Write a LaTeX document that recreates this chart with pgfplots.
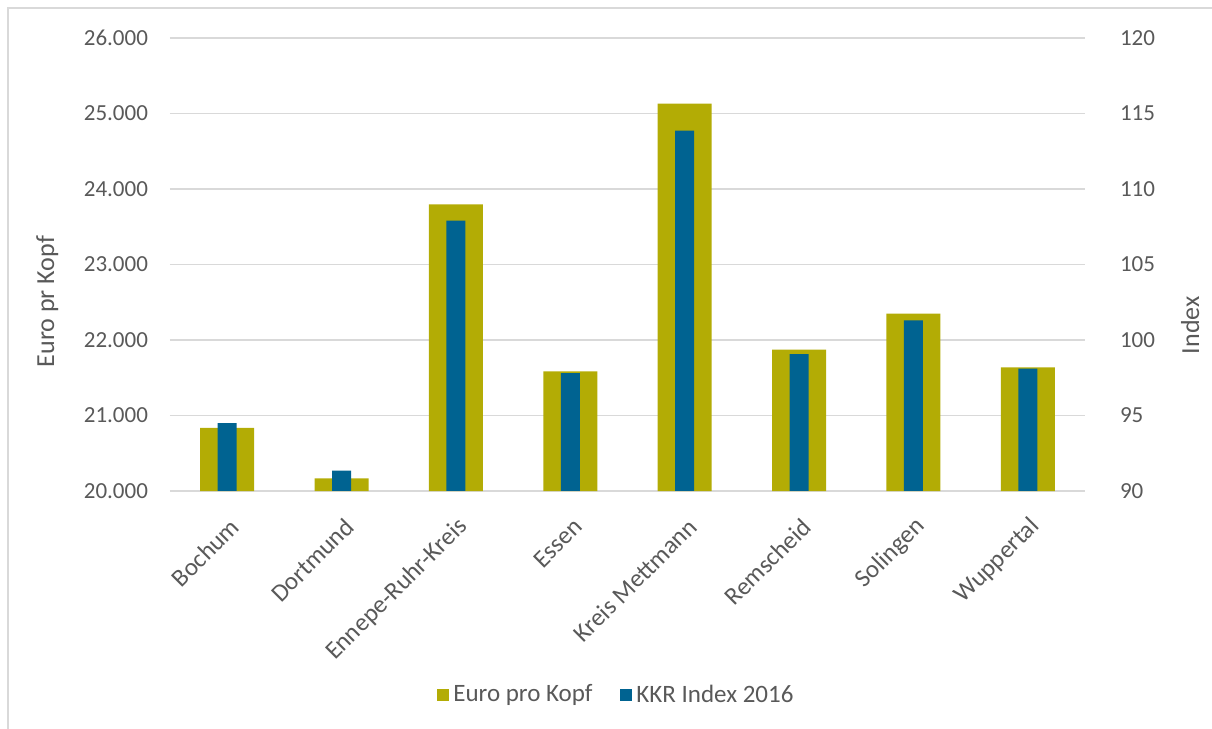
\documentclass[border=0pt]{standalone}
\usepackage{fontspec}
\setmainfont{Carlito}
\usepackage{pgfplots}
\pgfplotsset{compat=1.18}
\definecolor{olivebar}{HTML}{B3AC05}
\definecolor{kblue}{HTML}{006391}
\definecolor{txt}{HTML}{595959}
\definecolor{gridc}{HTML}{D9D9D9}
\begin{document}
\begin{tikzpicture}[x=1pt,y=1pt]
\path[use as bounding box] (0,0) rectangle (606,364.5);
\draw[gridc, line width=0.6pt] (4,-5) rectangle (615,360.5);
\begin{axis}[
  at={(85pt,119pt)}, anchor=south west,
  scale only axis, width=457.5pt, height=226.5pt,
  xmin=-0.5, xmax=7.5, ymin=20000, ymax=26000,
  scaled y ticks=false,
  ytick={20000,21000,...,26000},
  yticklabels={20.000,21.000,22.000,23.000,24.000,25.000,26.000},
  xtick={0,...,7},
  xticklabels={Bochum,Dortmund,Ennepe-Ruhr-Kreis,Essen,Kreis Mettmann,Remscheid,Solingen,Wuppertal},
  x tick label style={rotate=45, anchor=east, font=\fontsize{12.5}{14}\selectfont, text=txt, yshift=-14pt, xshift=-5pt},
  y tick label style={font=\fontsize{11.5}{14}\selectfont, text=txt, xshift=-7.5pt},
  /pgf/number format/assume math mode=true,
  ymajorgrids, grid style={gridc, line width=0.75pt},
  axis x line*=bottom, axis y line*=left,
  x axis line style={gridc, line width=1.1pt, -},
  y axis line style={draw=none},
  major tick length=0pt,
  ylabel={Euro pr Kopf},
  ylabel style={at={(rel axis cs:-0.134,0.418)}, anchor=center, font=\fontsize{13}{15}\selectfont, text=txt},
  legend style={at={(0.489,-0.45)}, anchor=center, legend columns=2, draw=none, fill=none,
    font=\fontsize{12.5}{14}\selectfont, text=txt,
    /tikz/every even column/.append style={column sep=12pt}},
  legend image code/.code={\fill[#1, draw=none] (0pt,-3pt) rectangle (6pt,3pt);},
]
\addplot[ybar, bar width=27pt, bar shift=0pt, fill=olivebar, draw=none] coordinates {
  (0,20836) (1,20168) (2,23797) (3,21585) (4,25132) (5,21873) (6,22350) (7,21638)};
\addlegendentry{Euro pro Kopf}
\addlegendimage{fill=kblue, draw=none}
\addlegendentry{KKR Index 2016}
\end{axis}
\begin{axis}[
  at={(85pt,119pt)}, anchor=south west,
  scale only axis, width=457.5pt, height=226.5pt,
  xmin=-0.5, xmax=7.5, ymin=90, ymax=120,
  ytick={90,95,...,120},
  axis x line=none, axis y line*=right,
  y axis line style={draw=none},
  major tick length=0pt,
  y tick label style={font=\fontsize{11.5}{14}\selectfont, text=txt, xshift=14pt},
  /pgf/number format/assume math mode=true,
  ylabel={Index},
  ylabel style={at={(rel axis cs:1.115,0.366)}, anchor=center, font=\fontsize{13}{15}\selectfont, text=txt},
]
\addplot[ybar, bar width=9.5pt, bar shift=0pt, fill=kblue, draw=none] coordinates {
  (0,94.5) (1,91.35) (2,107.9) (3,97.8) (4,113.87) (5,99.07) (6,101.3) (7,98.1)};
\end{axis}
\end{tikzpicture}
\end{document}
